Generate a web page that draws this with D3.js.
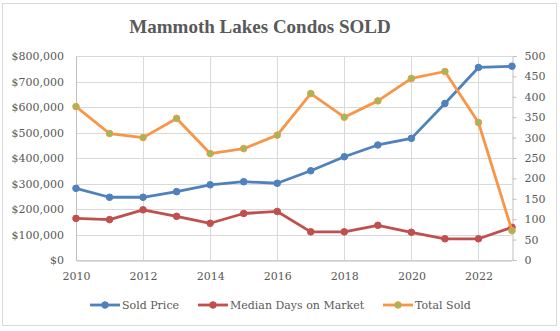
<!DOCTYPE html>
<html>
<head>
<meta charset="utf-8">
<script src="https://cdn.jsdelivr.net/npm/d3@7"></script>
<style>
  body { margin: 0; background: #fff; }
  text { font-family: "DejaVu Serif", serif; fill: #595959; }
</style>
</head>
<body>
<div id="chart"></div>
<script>
// yearly figures
var years = [2010, 2011, 2012, 2013, 2014, 2015, 2016, 2017, 2018, 2019, 2020, 2021, 2022, 2023];
var soldPrice = [281000, 246000, 246000, 268000, 295000, 307000, 301000, 350000, 405000, 451000, 477000, 614000, 755000, 760000];
var medianDays = [102, 99, 123, 107, 90, 114, 119, 69, 69, 85, 68, 52, 52, 80];
var totalSold = [376, 310, 300, 347, 261, 273, 306, 408, 350, 390, 445, 462, 337, 72];
var xTicks = [2010, 2012, 2014, 2016, 2018, 2020, 2022];
var priceTicks = [0, 100000, 200000, 300000, 400000, 500000, 600000, 700000, 800000];
var countTicks = [0, 50, 100, 150, 200, 250, 300, 350, 400, 450, 500];

var width = 560, height = 331;
var plot = {left: 76, right: 512, top: 56, bottom: 260};

var svg = d3.select("#chart").append("svg")
    .attr("width", width).attr("height", height);

svg.append("rect")
    .attr("x", 2.5).attr("y", 3.5)
    .attr("width", 554).attr("height", 322)
    .attr("fill", "#fff").attr("stroke", "#d9d9d9");

var x = d3.scaleLinear().domain([2010, 2023]).range([plot.left, plot.right]);
var yL = d3.scaleLinear().domain([0, 800000]).range([plot.bottom, plot.top]);
var yR = d3.scaleLinear().domain([0, 500]).range([plot.bottom, plot.top]);

// title
svg.append("text")
    .attr("x", 260).attr("y", 33)
    .attr("text-anchor", "middle")
    .style("font-family", "'Liberation Serif', serif")
    .style("font-size", "19px").style("font-weight", "bold")
    .text("Mammoth Lakes Condos SOLD");

// gridlines
svg.append("g").selectAll("line").data(priceTicks).enter().append("line")
    .attr("x1", plot.left).attr("x2", plot.right)
    .attr("y1", d => Math.round(yL(d)) + 0.5).attr("y2", d => Math.round(yL(d)) + 0.5)
    .attr("stroke", "#d9d9d9");
svg.append("g").selectAll("line").data(xTicks).enter().append("line")
    .attr("x1", d => Math.round(x(d)) + 0.5).attr("x2", d => Math.round(x(d)) + 0.5)
    .attr("y1", plot.top).attr("y2", plot.bottom)
    .attr("stroke", "#d9d9d9");

// left axis
var leftAxis = svg.append("g")
    .attr("transform", "translate(" + plot.left + ",0)")
    .call(d3.axisLeft(yL).tickValues(priceTicks).tickSize(0).tickPadding(12)
        .tickFormat(d => "$" + d3.format(",")(d)));
leftAxis.select(".domain").attr("stroke", "#bfbfbf");
leftAxis.selectAll("text").style("font-size", "11px").style("font-family", "DejaVu Serif").attr("fill", "#595959");

// right axis
var rightAxis = svg.append("g")
    .attr("transform", "translate(" + (plot.right + 0.5) + ",0)")
    .call(d3.axisRight(yR).tickValues(countTicks).tickSize(4).tickPadding(8));
rightAxis.selectAll(".domain, line").attr("stroke", "#bfbfbf");
rightAxis.selectAll("text").style("font-size", "11px").style("font-family", "DejaVu Serif").attr("fill", "#595959");

// bottom axis
var bottomAxis = svg.append("g")
    .attr("transform", "translate(0," + (plot.bottom + 0.5) + ")")
    .call(d3.axisBottom(x).tickValues(xTicks).tickSize(0).tickPadding(12)
        .tickFormat(d3.format("d")));
bottomAxis.select(".domain").attr("stroke", "#bfbfbf");
bottomAxis.selectAll("text").style("font-size", "11px").style("font-family", "DejaVu Serif").attr("fill", "#595959");

var series = [
  {name: "Sold Price", values: soldPrice, y: yL, color: "#4f81bd", marker: "#4f81bd"},
  {name: "Median Days on Market", values: medianDays, y: yR, color: "#c0504d", marker: "#c0504d"},
  {name: "Total Sold", values: totalSold, y: yR, color: "#f79646", marker: "#9bbb59"}
];

series.forEach(function(s) {
  var line = d3.line()
      .x((d, i) => x(years[i]))
      .y(d => s.y(d));
  svg.append("path")
      .datum(s.values)
      .attr("d", line)
      .attr("fill", "none")
      .attr("stroke", s.color)
      .attr("stroke-width", 2.8)
      .attr("stroke-linejoin", "round");
  svg.append("g").selectAll("circle").data(s.values).enter().append("circle")
      .attr("cx", (d, i) => x(years[i]))
      .attr("cy", d => s.y(d))
      .attr("r", 3.3)
      .attr("fill", s.marker)
      .attr("stroke", s.color)
      .attr("stroke-width", 1);
});

// legend
var legendX = [90, 198, 383];
var legend = svg.append("g").selectAll("g").data(series).enter().append("g")
    .attr("transform", (d, i) => "translate(" + legendX[i] + ",305)");
legend.append("line")
    .attr("x1", 0).attr("x2", 30)
    .attr("stroke", d => d.color).attr("stroke-width", 2.8);
legend.append("circle")
    .attr("cx", 15).attr("r", 3.3)
    .attr("fill", d => d.marker).attr("stroke", d => d.color);
legend.append("text")
    .attr("x", 32).attr("dy", "0.35em")
    .style("font-size", "11px")
    .text(d => d.name);
</script>
</body>
</html>
